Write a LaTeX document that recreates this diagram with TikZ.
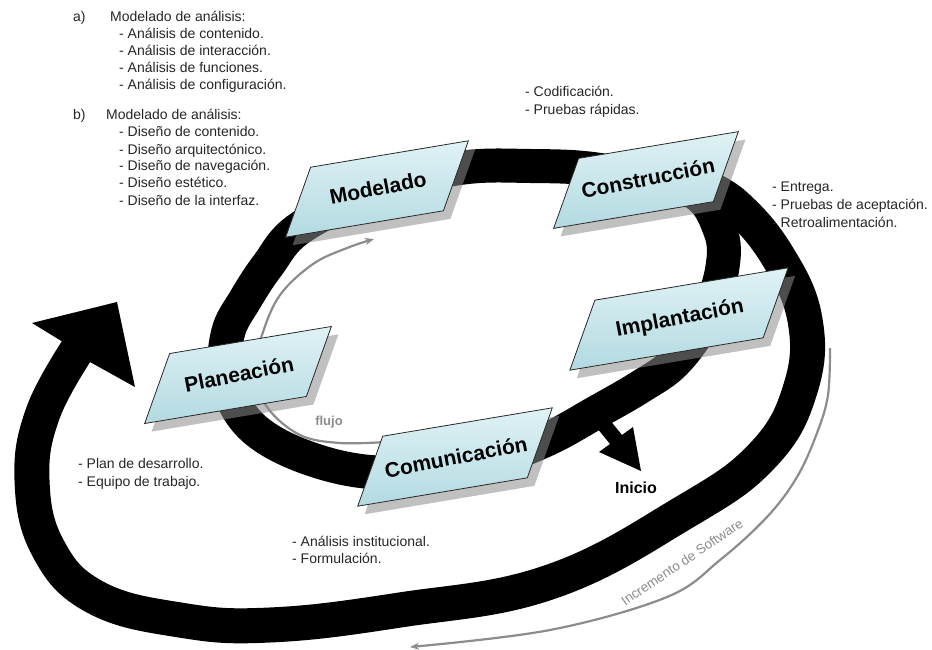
\documentclass[tikz,border=0pt]{standalone}
\usepackage{fontspec}
\setmainfont{Liberation Sans}
\usetikzlibrary{calc,arrows.meta}
\definecolor{flowgray}{RGB}{140,140,140}
\definecolor{boxtop}{RGB}{224,242,245}
\definecolor{boxbot}{RGB}{178,218,225}
\definecolor{boxline}{RGB}{40,40,40}
\tikzset{
  band/.style={draw=black, line width=35pt},
  ringband/.style={draw=black, line width=34pt},
  grayline/.style={draw=flowgray, line width=2.2pt},
  listtxt/.style={font=\fontsize{14}{17}\selectfont, inner sep=0pt, anchor=base west, text=black!85},
  stagetxt/.style={font=\fontsize{21}{25}\selectfont\bfseries, rotate=11, inner sep=0pt},
  stagebox/.style={draw=boxline, line width=0.8pt, top color=boxtop, bottom color=boxbot},
}
\newcommand\stageshape[4]{%
  \pgfmathsetmacro\sax{0.986*#4}%
  \pgfmathsetmacro\say{0.165*#4}%
  \coordinate (#1-c) at (#2,#3);
  \coordinate (#1-bl) at ($(#1-c)+(-\sax-12.5,\say+35)$);
  \coordinate (#1-br) at ($(#1-c)+(\sax-12.5,-\say+35)$);
  \coordinate (#1-tr) at ($(#1-c)+(\sax+12.5,-\say-35)$);
  \coordinate (#1-tl) at ($(#1-c)+(-\sax+12.5,\say-35)$);
  \fill[black,opacity=0.35] ([shift={(7,8)}]#1-bl) -- ([shift={(7,8)}]#1-br) -- ([shift={(7,8)}]#1-tr) -- ([shift={(7,8)}]#1-tl) -- cycle;
  \fill[white,opacity=0.3] ([shift={(7,8)}]#1-bl) -- ([shift={(7,8)}]#1-br) -- ([shift={(7,8)}]#1-tr) -- ([shift={(7,8)}]#1-tl) -- cycle;
  \draw[stagebox] (#1-bl) -- (#1-br) -- (#1-tr) -- (#1-tl) -- cycle;
}
\begin{document}
\begin{tikzpicture}[x=1pt,y=-1pt]
\useasboundingbox (0,0) rectangle (932,650);
\fill[white] (0,0) rectangle (932,650);

% outer spiral band with big arrow head
\draw[band] plot[smooth, tension=0.7] coordinates {(79,347) (43,413) (32,480) (48,548) (95,597) (180,620) (270,625) (400,610) (550,582) (683,513) (762,456) (800,390) (805,320) (777,255) (735,205) (700,185)};
\fill[black] (63,342) -- (32,323) -- (117,302) -- (135,387) -- (90,362) -- cycle;

% inner ring
\draw[ringband] plot[smooth cycle, tension=0.6] coordinates {(455,468) (370,472) (300,455) (250,425) (226,380) (228,333) (245,300) (268,265) (300,228) (380,188) (460,168) (530,166) (600,170) (690,190) (720,230) (722,270) (705,320) (675,362) (640,387) (595,413) (550,438) (500,458)};

% Inicio arrow
\fill[black] (597,428) -- (610,444) -- (599,452) -- (641,471) -- (633,427) -- (622,435) -- (609,419) -- cycle;

% flujo gray arrow
\draw[grayline, -{Stealth[length=9pt,width=7pt]}] plot[smooth, tension=0.6] coordinates {(385,442) (340,443) (300,435) (267,407) (255,370) (262,335) (280,295) (313,264) (347,248) (374,239)};

% Incremento de Software gray arrow
\draw[grayline, -{Stealth[length=9pt,width=7pt]}] plot[smooth, tension=0.6] coordinates {(830,348) (828,395) (817,433) (797,477) (767,517) (720,560) (667,597) (550,630) (410,647)};

% stage boxes
\stageshape{sPlan}{238}{375}{82}
\stageshape{sMod}{377}{189}{80}
\stageshape{sCon}{646}{180}{81}
\stageshape{sImp}{679}{319}{98}
\stageshape{sCom}{455}{457}{86}

\node[stagetxt] (plan) at (239,374) {Planeación};
\node[stagetxt] (mod) at (378,188) {Modelado};
\node[stagetxt] (con) at (648,178) {Construcción};
\node[stagetxt] (imp) at (680,319) {Implantación};
\node[stagetxt] (com) at (456,457) {Comunicación};

% labels
\node[font=\fontsize{16}{19}\selectfont\bfseries, inner sep=0pt] (inicio) at (636,488) {Inicio};
\node[font=\fontsize{13}{15}\selectfont\bfseries, text=flowgray, inner sep=0pt] (flujo) at (329,422) {flujo};
\node[font=\fontsize{13.5}{16}\selectfont, text=flowgray, rotate=34, inner sep=0pt] (incr) at (682,562) {Incremento de Software};

% list a)
\node[listtxt] (la) at (73,22) {a)};
\node[listtxt] (lahead) at (110,22) {Modelado de análisis:};
\node[listtxt] (la1) at (119,39) {- Análisis de contenido.};
\node[listtxt] (la2) at (119,56) {- Análisis de interacción.};
\node[listtxt] (la3) at (119,73) {- Análisis de funciones.};
\node[listtxt] (la4) at (119,90) {- Análisis de configuración.};
% list b)
\node[listtxt] (lb) at (73,120) {b)};
\node[listtxt] (lbhead) at (106,120) {Modelado de análisis:};
\node[listtxt] (lb1) at (119,137) {- Diseño de contenido.};
\node[listtxt] (lb2) at (119,154) {- Diseño arquitectónico.};
\node[listtxt] (lb3) at (119,171) {- Diseño de navegación.};
\node[listtxt] (lb4) at (119,188) {- Diseño estético.};
\node[listtxt] (lb5) at (119,205) {- Diseño de la interfaz.};
% construction notes
\node[listtxt] (lc1) at (525,97) {- Codificación.};
\node[listtxt] (lc2) at (525,115) {- Pruebas rápidas.};
% deployment notes
\node[listtxt] (ld1) at (772,191) {- Entrega.};
\node[listtxt] (ld2) at (772,209) {- Pruebas de aceptación.};
\node[listtxt] (ld3) at (772,227) {- Retroalimentación.};
% planning notes
\node[listtxt] (lp1) at (78,468) {- Plan de desarrollo.};
\node[listtxt] (lp2) at (78,486) {- Equipo de trabajo.};
% communication notes
\node[listtxt] (lm1) at (292,546) {- Análisis institucional.};
\node[listtxt] (lm2) at (292,563) {- Formulación.};
\end{tikzpicture}
\end{document}
